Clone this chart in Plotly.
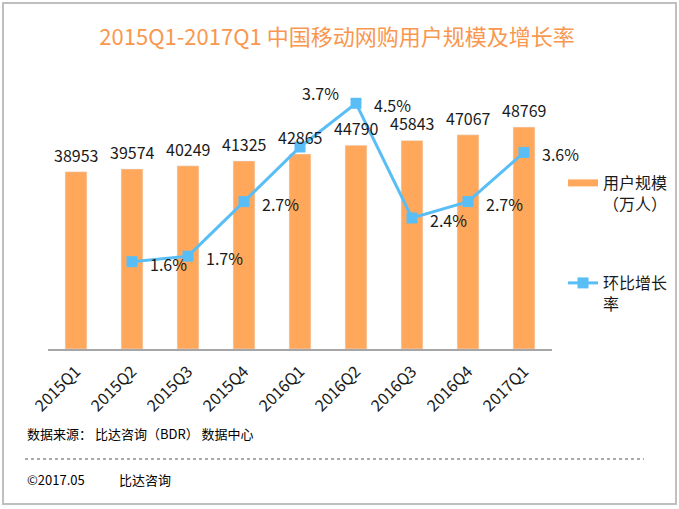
import plotly.graph_objects as go

# ---- data ----
quarters = ["2015Q1", "2015Q2", "2015Q3", "2015Q4", "2016Q1",
            "2016Q2", "2016Q3", "2016Q4", "2017Q1"]
users = [38953, 39574, 40249, 41325, 42865, 44790, 45843, 47067, 48769]
growth = [None, 1.6, 1.7, 2.7, 3.7, 4.5, 2.4, 2.7, 3.6]

bar_name = "用户规模<br>（万人）"
line_name = "环比增长<br>率"
title_text = "2015Q1-2017Q1 中国移动网购用户规模及增长率"
source_text = "数据来源： 比达咨询（BDR） 数据中心"
copyright_text = "©2017.05"
company_text = "比达咨询"

# ---- style ----
W, H = 679, 509
L, R, T, B = 48, 552, 76, 349
FONT = "Microsoft YaHei, Noto Sans CJK SC, sans-serif"
BAR_COLOR = "#FFA75B"
LINE_COLOR = "#5ABEF6"
TITLE_COLOR = "#F9974F"
TEXT_COLOR = "#1a1a1a"

def px_x(px):
    return (px - L) / (R - L)

def px_y(py):
    return (B - py) / (B - T)

# label offsets for the growth labels (xshift, yshift)
growth_label_style = {4: (0, 54)}

fig = go.Figure()
fig.add_trace(go.Bar(
    x=quarters, y=users, name=bar_name, marker_color=BAR_COLOR,
    yaxis="y", showlegend=False,
))
# legend-only swatch for the bars (wide flat rectangle like the reference)
fig.add_trace(go.Scatter(
    x=[None], y=[None], name=bar_name, mode="lines",
    line=dict(color=BAR_COLOR, width=7), yaxis="y", legend="legend",
))
fig.add_trace(go.Scatter(
    x=quarters, y=growth, name=line_name, mode="lines+markers",
    line=dict(color=LINE_COLOR, width=3),
    marker=dict(symbol="square", size=11, color=LINE_COLOR),
    yaxis="y2", legend="legend2",
))

annotations = []
for q, v in zip(quarters, users):
    annotations.append(dict(
        x=q, y=v, xref="x", yref="y", text=str(v), showarrow=False,
        yshift=17, yanchor="middle", xanchor="center",
        font=dict(family=FONT, size=16, color=TEXT_COLOR),
    ))
for i, (q, g) in enumerate(zip(quarters, growth)):
    if g is None:
        continue
    xs, ys = growth_label_style.get(i, (16, -2))
    annotations.append(dict(
        x=q, y=g, xref="x", yref="y2", text=f"{g}%", showarrow=False,
        xshift=xs, yshift=ys, xanchor="left", yanchor="middle",
        font=dict(family=FONT, size=16, color=TEXT_COLOR),
    ))

annotations += [
    dict(x=px_x(25), y=px_y(433), xref="paper", yref="paper", text=source_text,
         showarrow=False, xanchor="left", yanchor="middle",
         font=dict(family=FONT, size=13, color="#000000")),
    dict(x=px_x(25), y=px_y(479), xref="paper", yref="paper", text=copyright_text,
         showarrow=False, xanchor="left", yanchor="middle",
         font=dict(family=FONT, size=13, color="#000000")),
    dict(x=px_x(117), y=px_y(479), xref="paper", yref="paper", text=company_text,
         showarrow=False, xanchor="left", yanchor="middle",
         font=dict(family=FONT, size=13, color="#000000")),
]

shapes = [
    dict(type="line", xref="paper", yref="paper",
         x0=px_x(25), x1=px_x(644), y0=px_y(459), y1=px_y(459),
         line=dict(color="#555555", width=1, dash="dot")),
    dict(type="rect", xref="paper", yref="paper",
         x0=px_x(3), x1=px_x(676), y0=px_y(504), y1=px_y(3),
         line=dict(color="#BFBFBF", width=2)),
]

fig.update_layout(
    width=W, height=H,
    margin=dict(l=L, r=W - R, t=T, b=H - B, pad=0, autoexpand=False),
    paper_bgcolor="white", plot_bgcolor="white",
    font=dict(family=FONT, size=16, color=TEXT_COLOR),
    title=dict(text=title_text, x=337 / W, xanchor="center",
               y=1 - 37 / H, yanchor="middle", xref="container", yref="container",
               font=dict(family=FONT, size=22, color=TITLE_COLOR)),
    bargap=0.61,
    xaxis=dict(showline=True, linecolor="#A6A6A6", linewidth=1.5,
               range=[-0.5, len(quarters) - 0.5],
               ticks="", tickangle=-45, showgrid=False, automargin=False,
               ticklabelstandoff=5,
               tickfont=dict(family=FONT, size=16, color=TEXT_COLOR)),
    yaxis=dict(range=[0, 60000], visible=False, showgrid=False, automargin=False),
    yaxis2=dict(range=[0, 5], overlaying="y", side="right", visible=False,
                showgrid=False, automargin=False),
    showlegend=True,
    legend=dict(x=px_x(563), y=px_y(166), xanchor="left", yanchor="top",
                valign="top", bgcolor="rgba(0,0,0,0)",
                font=dict(family=FONT, size=16, color=TEXT_COLOR)),
    legend2=dict(x=px_x(563), y=px_y(266), xanchor="left", yanchor="top",
                 valign="top", bgcolor="rgba(0,0,0,0)",
                 font=dict(family=FONT, size=16, color=TEXT_COLOR)),
    annotations=annotations,
    shapes=shapes,
)

fig.write_html("out.html", config={"displayModeBar": False},
               post_script="document.body.style.margin='0';document.body.style.overflow='hidden';")
